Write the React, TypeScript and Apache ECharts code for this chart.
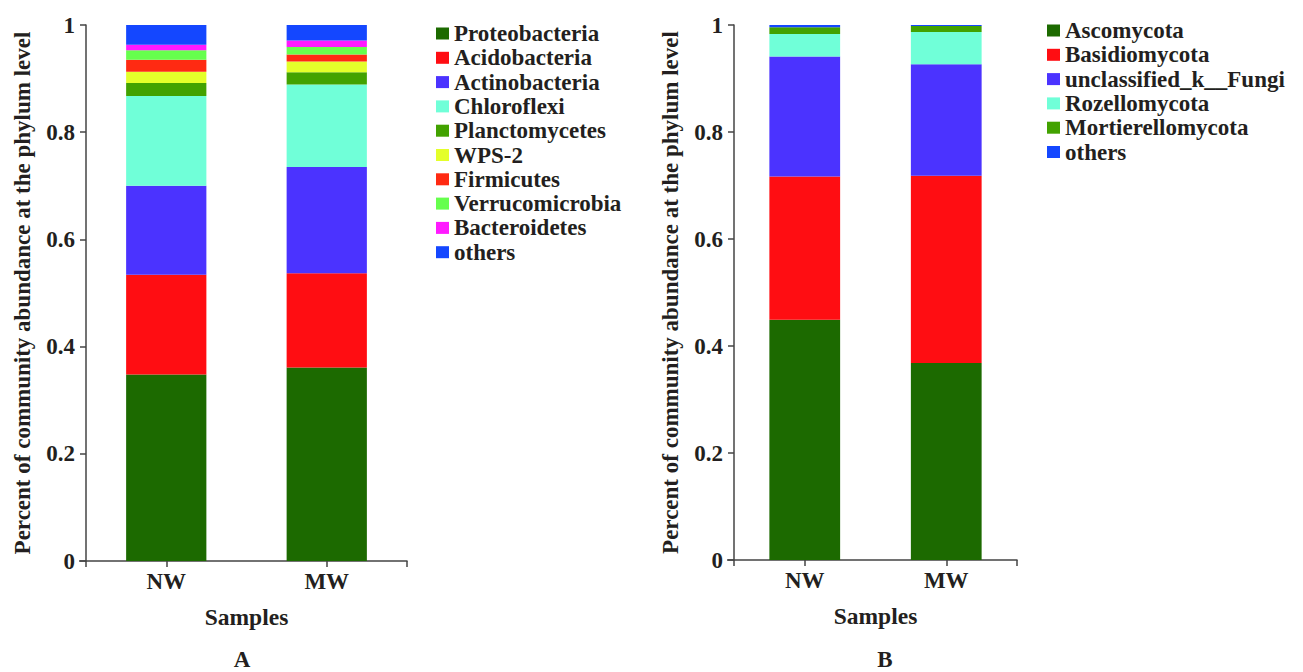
import React, { useEffect, useRef } from "react";
import * as echarts from "echarts";

const categories = ["NW", "MW"];

const bacteriaNames = [
  "Proteobacteria",
  "Acidobacteria",
  "Actinobacteria",
  "Chloroflexi",
  "Planctomycetes",
  "WPS-2",
  "Firmicutes",
  "Verrucomicrobia",
  "Bacteroidetes",
  "others",
];
const bacteriaNW = [0.348, 0.186, 0.166, 0.1675, 0.0245, 0.021, 0.022, 0.018, 0.01, 0.037];
const bacteriaMW = [0.361, 0.176, 0.198, 0.154, 0.023, 0.02, 0.013, 0.014, 0.012, 0.029];
const bacteriaColors = [
  "#1c6a00",
  "#ff0d12",
  "#4b33ff",
  "#70ffd8",
  "#42a200",
  "#e4ff2a",
  "#ff2a12",
  "#66ff4d",
  "#ff1aff",
  "#1447ff",
];

const fungiNames = [
  "Ascomycota",
  "Basidiomycota",
  "unclassified_k__Fungi",
  "Rozellomycota",
  "Mortierellomycota",
  "others",
];
const fungiNW = [0.449, 0.268, 0.224, 0.042, 0.013, 0.004];
const fungiMW = [0.368, 0.35, 0.2085, 0.0605, 0.011, 0.002];
const fungiColors = ["#1c6a00", "#ff0d12", "#4b33ff", "#70ffd8", "#42a200", "#1447ff"];

const yTickMin = 0;
const yTickMax = 1;
const yTickStep = 0.2;

const FONT = '"Liberation Serif", "Times New Roman", serif';
const TEXT = "#231f20";
const AXIS = "#444";

const gridA = { left: 86, top: 25, width: 321, height: 536 };
const gridB = { left: 734, top: 25, width: 283, height: 535 };

function makeCategoryAxis(gridIndex: number) {
  return {
    type: "category",
    gridIndex,
    position: "bottom",
    data: categories,
    name: "Samples",
    nameLocation: "middle",
    nameGap: 44,
    nameTextStyle: { fontFamily: FONT, fontWeight: "bold", fontSize: 23.5, color: TEXT },
    axisLine: { show: true, lineStyle: { color: AXIS, width: 1.5 } },
    axisTick: { show: true, alignWithLabel: true, length: 6, lineStyle: { color: AXIS, width: 1.5 } },
    axisLabel: { margin: 9, fontFamily: FONT, fontWeight: "bold", fontSize: 23, color: TEXT },
    splitLine: { show: false },
  };
}

function makeEndTickAxis(gridIndex: number) {
  return {
    type: "value",
    gridIndex,
    position: "bottom",
    min: 0,
    max: categories.length,
    interval: categories.length,
    axisLine: { show: false },
    axisTick: { show: true, length: 6, lineStyle: { color: AXIS, width: 1.5 } },
    axisLabel: { show: false },
    splitLine: { show: false },
  };
}

function makeValueAxis(gridIndex: number) {
  return {
    type: "value",
    gridIndex,
    min: yTickMin,
    max: yTickMax,
    interval: yTickStep,
    name: "Percent of community abundance at the phylum level",
    nameLocation: "middle",
    nameRotate: 90,
    nameGap: 52,
    nameTextStyle: { fontFamily: FONT, fontWeight: "bold", fontSize: 23, color: TEXT },
    axisLine: { show: true, lineStyle: { color: AXIS, width: 1.5 } },
    axisTick: { show: true, length: 6, lineStyle: { color: AXIS, width: 1.5 } },
    axisLabel: { margin: 11, fontFamily: FONT, fontWeight: "bold", fontSize: 23, color: TEXT },
    splitLine: { show: false },
  };
}

function makeSeries(
  names: string[],
  nw: number[],
  mw: number[],
  colors: string[],
  axisIndex: number,
  stack: string
) {
  return names.map((name, i) => ({
    type: "bar",
    name,
    stack,
    xAxisIndex: axisIndex,
    yAxisIndex: axisIndex,
    barWidth: "50%",
    data: [nw[i], mw[i]],
    itemStyle: { color: colors[i] },
  }));
}

function legendOf(names: string[], left: number, top: number) {
  return {
    orient: "vertical",
    left,
    top,
    data: names,
    icon: "rect",
    itemWidth: 13,
    itemHeight: 12,
    itemGap: 1.3,
    selectedMode: false,
    textStyle: { fontFamily: FONT, fontWeight: "bold", fontSize: 23, color: TEXT, lineHeight: 20 },
  };
}

export default function App() {
  const ref = useRef<HTMLDivElement>(null);

  useEffect(() => {
    if (!ref.current) return;
    const chart = echarts.init(ref.current, null, { renderer: "svg" });
    const option = {
      animation: false,
      backgroundColor: "#ffffff",
      grid: [
        { ...gridA, containLabel: false },
        { ...gridB, containLabel: false },
      ],
      xAxis: [makeCategoryAxis(0), makeCategoryAxis(1), makeEndTickAxis(0), makeEndTickAxis(1)],
      yAxis: [makeValueAxis(0), makeValueAxis(1)],
      legend: [legendOf(bacteriaNames, 431, 17), legendOf(fungiNames, 1042, 14)],
      series: [
        ...makeSeries(bacteriaNames, bacteriaNW, bacteriaMW, bacteriaColors, 0, "A"),
        ...makeSeries(fungiNames, fungiNW, fungiMW, fungiColors, 1, "B"),
      ],
      graphic: [
        {
          type: "line",
          shape: { x1: gridA.left - 7, y1: gridA.top + gridA.height, x2: gridA.left, y2: gridA.top + gridA.height },
          style: { stroke: AXIS, lineWidth: 1.5 },
        },
        {
          type: "line",
          shape: { x1: gridB.left - 7, y1: gridB.top + gridB.height, x2: gridB.left, y2: gridB.top + gridB.height },
          style: { stroke: AXIS, lineWidth: 1.5 },
        },
        {
          type: "text",
          x: 242,
          y: 671,
          style: {
            text: "A",
            fontFamily: FONT,
            fontWeight: "bold",
            fontSize: 23,
            fill: TEXT,
            align: "center",
            verticalAlign: "bottom",
          },
        },
        {
          type: "text",
          x: 885,
          y: 671,
          style: {
            text: "B",
            fontFamily: FONT,
            fontWeight: "bold",
            fontSize: 23,
            fill: TEXT,
            align: "center",
            verticalAlign: "bottom",
          },
        },
      ],
    };
    chart.setOption(option as any);
    return () => chart.dispose();
  }, []);

  return (
    <div
      ref={ref}
      style={{ position: "absolute", left: 0, top: 0, width: 1303, height: 672, background: "#fff" }}
    />
  );
}
